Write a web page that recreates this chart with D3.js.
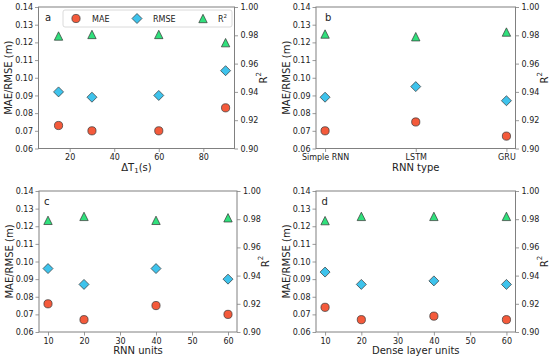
<!DOCTYPE html>
<html>
<head>
<meta charset="utf-8">
<script src="https://cdn.jsdelivr.net/npm/d3@7"></script>
<style>
  body { margin: 0; background: #fff; }
  text { font-family: "DejaVu Sans", sans-serif; fill: #222; }
</style>
</head>
<body>
<div id="chart"></div>
<script>
// data
const dtValues = [15, 30, 60, 90];
const dtMAE = [0.073, 0.070, 0.070, 0.083];
const dtRMSE = [0.092, 0.089, 0.090, 0.104];
const dtR2 = [0.9795, 0.9806, 0.9806, 0.9748];

const rnnTypes = ["Simple RNN", "LSTM", "GRU"];
const typeMAE = [0.070, 0.075, 0.067];
const typeRMSE = [0.089, 0.095, 0.087];
const typeR2 = [0.9809, 0.9790, 0.9823];

const rnnUnits = [10, 20, 40, 60];
const unitsMAE = [0.076, 0.067, 0.075, 0.070];
const unitsRMSE = [0.096, 0.087, 0.096, 0.090];
const unitsR2 = [0.9792, 0.9820, 0.9792, 0.9810];

const denseUnits = [10, 20, 40, 60];
const denseMAE = [0.074, 0.067, 0.069, 0.067];
const denseRMSE = [0.094, 0.087, 0.089, 0.087];
const denseR2 = [0.9790, 0.9820, 0.9820, 0.9820];

const leftTicks = [0.06, 0.07, 0.08, 0.09, 0.10, 0.11, 0.12, 0.13, 0.14];
const rightTicks = [0.90, 0.92, 0.94, 0.96, 0.98, 1.00];
const dtTicks = [20, 40, 60, 80];
const unitTicks = [10, 20, 30, 40, 50, 60];

const colors = { mae: "#f45a3b", rmse: "#3ec3ec", r2: "#30e07c" };

const width = 550;
const height = 358;

const svg = d3.select("#chart")
    .append("svg")
    .attr("width", width)
    .attr("height", height);

// marker paths
function diamond(s) {
    return `M0,${-s}L${s},0L0,${s}L${-s},0Z`;
}
function triangle(s) {
    return `M0,${-s}L${s},${s}L${-s},${s}Z`;
}

function drawMarkers(g, xs, ys, x, y, kind) {
    const pts = xs.map((d, i) => ({ x: d, y: ys[i] }));
    if (kind === "mae") {
        g.selectAll(null).data(pts).enter().append("circle")
            .attr("cx", d => x(d.x)).attr("cy", d => y(d.y))
            .attr("r", 4.1)
            .attr("fill", colors.mae).attr("stroke", "#333").attr("stroke-width", 0.7);
    } else {
        g.selectAll(null).data(pts).enter().append("path")
            .attr("transform", d => `translate(${x(d.x)},${y(d.y)})`)
            .attr("d", kind === "rmse" ? diamond(5) : triangle(4.2))
            .attr("fill", colors[kind]).attr("stroke", "#333").attr("stroke-width", 0.7);
    }
}

function panel(cfg) {
    const { left, right, top, bottom } = cfg.box;
    const g = svg.append("g");

    let x;
    if (cfg.categorical) {
        x = d3.scalePoint().domain(cfg.xs).range([left, right]).padding(0.1);
    } else {
        x = d3.scaleLinear().domain(cfg.xDomain).range([left, right]);
    }
    const yL = d3.scaleLinear().domain([0.06, 0.14]).range([bottom, top]);
    const yR = d3.scaleLinear().domain([0.90, 1.00]).range([bottom, top]);

    // axes
    const xAxis = cfg.categorical ? d3.axisBottom(x) : d3.axisBottom(x).tickValues(cfg.xTicks);
    const ax = g.append("g")
        .attr("transform", `translate(0,${bottom})`)
        .call(xAxis.tickSize(3.5).tickPadding(2.5));
    const ayl = g.append("g")
        .attr("transform", `translate(${left},0)`)
        .call(d3.axisLeft(yL).tickValues(leftTicks).tickFormat(d3.format(".2f")).tickSize(3.5).tickPadding(2));
    const ayr = g.append("g")
        .attr("transform", `translate(${right},0)`)
        .call(d3.axisRight(yR).tickValues(rightTicks).tickFormat(d3.format(".2f")).tickSize(3.5).tickPadding(2.5));
    [ax, ayl, ayr].forEach(a => {
        a.select(".domain").remove();
        a.selectAll(".tick line").attr("stroke", "#808080").attr("stroke-width", 0.8);
        a.selectAll(".tick text").style("font-size", "8px").style("font-family", "DejaVu Sans").attr("fill", "#222");
    });

    // frame
    g.append("rect")
        .attr("x", left).attr("y", top)
        .attr("width", right - left).attr("height", bottom - top)
        .attr("fill", "none").attr("stroke", "#808080").attr("stroke-width", 1);

    // markers
    drawMarkers(g, cfg.xs, cfg.r2, x, yR, "r2");
    drawMarkers(g, cfg.xs, cfg.mae, x, yL, "mae");
    drawMarkers(g, cfg.xs, cfg.rmse, x, yL, "rmse");

    // panel letter
    g.append("text")
        .attr("x", left + cfg.letterDx).attr("y", top + 14)
        .style("font-size", "10px")
        .text(cfg.letter);

    // y labels
    g.append("text")
        .attr("transform", `translate(${left - 30},${(top + bottom) / 2}) rotate(-90)`)
        .attr("text-anchor", "middle")
        .attr("dominant-baseline", "central")
        .style("font-size", "10px")
        .text("MAE/RMSE (m)");
    const r2Label = g.append("text")
        .attr("transform", `translate(${right + 28},${(top + bottom) / 2}) rotate(-90)`)
        .attr("text-anchor", "middle")
        .attr("dominant-baseline", "central")
        .style("font-size", "10px");
    r2Label.append("tspan").text("R");
    r2Label.append("tspan").attr("dy", -4).style("font-size", "7px").text("2");

    // x label
    const xl = g.append("text")
        .attr("x", (left + right) / 2).attr("y", bottom + 22)
        .attr("text-anchor", "middle")
        .style("font-size", "10px");
    if (cfg.xLabelSub) {
        xl.append("tspan").text(cfg.xLabel);
        xl.append("tspan").attr("dy", 2.5).style("font-size", "7px").text(cfg.xLabelSub);
        xl.append("tspan").attr("dy", -2.5).text(cfg.xLabelEnd);
    } else {
        xl.text(cfg.xLabel);
    }
    return g;
}

const gA = panel({
    box: { left: 38.5, right: 234.5, top: 7, bottom: 148.5 },
    xs: dtValues, mae: dtMAE, rmse: dtRMSE, r2: dtR2,
    xDomain: [6, 94], xTicks: dtTicks,
    letter: "a", letterDx: 6.5,
    xLabel: "ΔT", xLabelSub: "1", xLabelEnd: "(s)"
});
panel({
    box: { left: 316, right: 515.5, top: 7, bottom: 148.5 },
    xs: rnnTypes, mae: typeMAE, rmse: typeRMSE, r2: typeR2,
    categorical: true,
    letter: "b", letterDx: 9,
    xLabel: "RNN type"
});
panel({
    box: { left: 39, right: 237, top: 191, bottom: 332 },
    xs: rnnUnits, mae: unitsMAE, rmse: unitsRMSE, r2: unitsR2,
    xDomain: [7.5, 62.5], xTicks: unitTicks,
    letter: "c", letterDx: 5,
    xLabel: "RNN units"
});
panel({
    box: { left: 316, right: 515.5, top: 191, bottom: 332 },
    xs: denseUnits, mae: denseMAE, rmse: denseRMSE, r2: denseR2,
    xDomain: [7.5, 62.5], xTicks: unitTicks,
    letter: "d", letterDx: 5.5,
    xLabel: "Dense layer units"
});

// legend in panel a
const legendData = [
    { key: "mae", label: "MAE", mx: 76, tx: 92 },
    { key: "rmse", label: "RMSE", mx: 137, tx: 153 },
    { key: "r2", label: "R", sup: "2", mx: 203, tx: 218 }
];
const legend = gA.append("g").attr("class", "legend");
legend.append("rect")
    .attr("x", 63).attr("y", 10)
    .attr("width", 169).attr("height", 17)
    .attr("rx", 2)
    .attr("fill", "#fff").attr("fill-opacity", 0.8)
    .attr("stroke", "#d0d0d0").attr("stroke-width", 0.8);
legendData.forEach(d => {
    const m = legend.append("g").attr("transform", `translate(${d.mx},18.5)`);
    if (d.key === "mae") {
        m.append("circle").attr("r", 4.1);
    } else {
        m.append("path").attr("d", d.key === "rmse" ? diamond(5) : triangle(4.2));
    }
    m.selectAll("*").attr("fill", colors[d.key]).attr("stroke", "#333").attr("stroke-width", 0.7);
    const t = legend.append("text")
        .attr("x", d.tx).attr("y", 21.5)
        .style("font-size", "8px")
        .text(d.label);
    if (d.sup) {
        t.append("tspan").attr("dy", -3.5).style("font-size", "5.5px").text(d.sup);
    }
});
</script>
</body>
</html>
